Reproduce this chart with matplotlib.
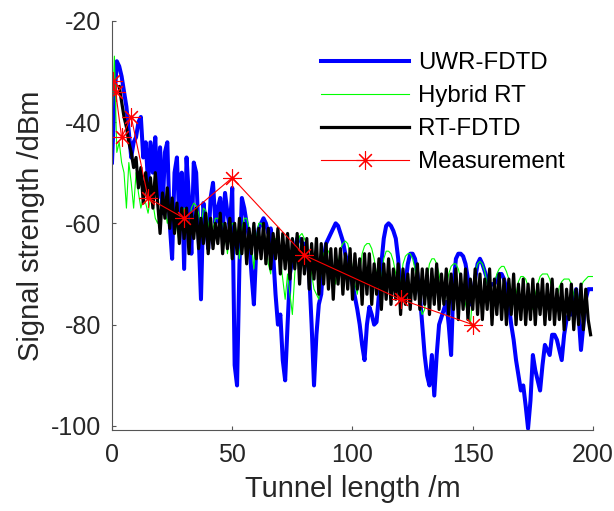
import numpy as np
import matplotlib
matplotlib.use("Agg")
import matplotlib.pyplot as plt

plt.rcParams['font.family'] = ['Liberation Sans', 'DejaVu Sans']
plt.rcParams['axes.unicode_minus'] = False

# measurement points
meas_x = [0.5, 1.5, 4, 8, 15, 30, 50, 80, 120, 150]
meas_y = [-32, -34, -43, -39, -55, -59, -51, -66.3, -75, -80]

# UWR-FDTD, 1 m steps from 0 to 200
uwr_x = list(range(0, 201))
uwr_y = [
    -48, -36, -28, -29, -31, -34, -37, -42, -47, -44,
    -43, -40, -39, -47, -44, -52, -44, -50, -43, -55,
    -45, -58, -46, -44, -60, -67, -50, -47, -60, -50,
    -69, -47, -55, -66, -48, -50, -62, -75, -56, -60,
    -65, -55, -52, -60, -57, -55, -62, -54, -58, -61,
    -53, -88, -92, -68, -55, -57, -60, -63, -70, -76,
    -65, -61, -60, -59, -60, -62, -61, -66, -74, -80,
    -78, -87, -91, -80, -70, -67, -65, -63, -63, -64,
    -64, -66, -70, -80, -92, -82, -76, -74, -67, -64,
    -63, -62, -61, -60, -60.5, -62, -63.5, -66, -68, -70,
    -72, -74.5, -77, -80, -84, -87, -80, -76.5, -78, -80,
    -79.5, -74, -68, -63, -60.5, -60, -60.5, -61.5, -63, -67,
    -74, -75, -72, -68, -66, -66, -67, -70, -74, -80,
    -86, -90, -92, -86, -94, -86, -80, -78.5, -77, -75.5,
    -80, -86, -72, -67, -66, -66, -66.5, -68, -71, -76,
    -74, -71, -68, -67, -68, -69.5, -71, -72.5, -72, -72,
    -71, -70, -70, -71, -73, -76, -80, -83, -87, -90,
    -93, -92, -96, -100.5, -95, -86, -89, -91, -93, -88,
    -84, -85, -86, -82, -82, -83, -85, -87, -82, -79,
    -78, -78, -76, -73, -78, -85, -80, -75, -73, -73,
    -73,
]

# Hybrid RT, 1 m steps from 0 to 200
hyb_x = list(range(0, 201))
hyb_y = [
    -40, -27, -46, -44, -48, -50, -57, -48, -52, -57,
    -50, -54, -57, -55, -56, -58, -55, -56, -59, -60,
    -58, -56.5, -57, -60, -58, -57, -59, -61, -64, -59,
    -57, -58, -62, -57, -56, -56.5, -58, -61, -57, -57.5,
    -60, -63, -61, -59, -59, -60, -60, -62, -66, -62,
    -60, -60, -62, -67, -61, -59, -59, -61, -64, -69,
    -63, -60, -60, -61, -64, -68, -70, -64, -63, -64,
    -67, -71, -75, -70, -74, -78, -70, -65, -62.5, -62,
    -63, -64.5, -67, -70, -73, -74, -75, -69, -66, -65,
    -65.5, -67, -69, -72, -68, -65, -64, -63.5, -64, -66,
    -69, -72, -74, -70, -66, -64.5, -64, -64, -65, -67,
    -70, -73, -71, -67, -65.5, -65.5, -66, -67.5, -70, -73,
    -72, -68, -66.5, -66, -66, -67, -69, -72, -76, -78,
    -77, -71, -68, -67, -67, -68, -70, -73, -76, -73,
    -70, -68.5, -68, -68, -69, -71, -73, -76, -78, -80,
    -74, -70, -68, -67.5, -68, -69.5, -72, -75, -76, -72,
    -70, -69, -68.5, -68.5, -69.5, -71, -73.5, -76, -74, -71.5,
    -70.5, -70.5, -71, -72.5, -75, -77, -74, -72, -70.5, -70,
    -70, -70, -71, -73, -76, -75, -72.5, -71.5, -71, -71,
    -71, -72, -74, -76.5, -75, -72.5, -71.5, -71, -70.5, -70.5,
    -70.5,
]

# RT-FDTD, 1 m steps from 3 to 199
rtf_x = list(range(3, 200))
rtf_y = [
    -33, -36, -39, -41, -44, -46, -49, -47, -53, -49,
    -56, -50, -55, -51, -57, -50, -56, -62, -54, -59,
    -53, -61, -55, -62, -56, -64, -57, -63, -57, -66,
    -58, -63, -57, -65, -59, -64, -58, -66, -59, -65,
    -60, -64, -58, -66, -60, -65, -59, -67, -60, -66,
    -59, -66, -60, -68, -61, -66, -60, -67, -61, -67,
    -60, -68, -61, -69, -62, -67, -61, -70, -62, -69,
    -62, -71, -63, -69, -62, -72, -63, -70, -63, -73,
    -64, -71, -63, -74, -64, -72, -64, -73, -65, -75,
    -65, -72, -65, -74, -66, -73, -65, -75, -66, -73,
    -67, -76, -66, -74, -66, -76, -68, -74, -67, -77,
    -68, -75, -67, -76, -69, -75, -68, -78, -69, -76,
    -70, -77, -69, -75, -68, -77, -69, -76, -69, -78,
    -69, -76, -68, -77, -70, -76, -69, -78, -70, -77,
    -69, -79, -70, -77, -69, -79, -71, -77, -69, -78,
    -70, -79, -71, -77, -69, -80, -71, -78, -70, -79,
    -71, -80, -71, -78, -70, -80, -72, -79, -71, -80,
    -72, -79, -71, -80, -72, -78, -71, -80, -72, -79,
    -71, -80, -73, -79, -72, -81, -73, -79, -72, -81,
    -73, -80, -72, -81, -73, -79, -82,
]

fig = plt.figure(figsize=(6.14, 5.11), dpi=100)
ax = fig.add_axes([0.1824, 0.1585, 0.7834, 0.801])

ax.plot(uwr_x, uwr_y, color='#0000ff', lw=2.9, label='UWR-FDTD')
ax.plot(hyb_x, hyb_y, color='#00ff00', lw=0.8, label='Hybrid RT')
ax.plot(rtf_x, rtf_y, color='black', lw=2.3, label='RT-FDTD')
ax.plot(meas_x, meas_y, color='#ff0000', lw=0.8, marker=(8, 2, 0),
        markersize=13, markeredgewidth=0.8, label='Measurement')

ax.set_xlim(0, 200)
ax.set_ylim(-100.8, -20)
ax.set_xticks([0, 50, 100, 150, 200])
ax.set_yticks([-100, -80, -60, -40, -20])

for s in ['top', 'right']:
    ax.spines[s].set_visible(False)
for s in ['left', 'bottom']:
    ax.spines[s].set_color('#555555')
    ax.spines[s].set_linewidth(0.8)

ax.tick_params(direction='in', length=3, width=0.8, colors='#555555',
               labelsize=18, labelcolor='#262626')
ax.tick_params(axis='x', pad=9)
ax.tick_params(axis='y', pad=8)

ax.set_xlabel('Tunnel length /m', fontsize=21, color='#262626', labelpad=6)
ax.set_ylabel('Signal strength /dBm', fontsize=21, color='#262626', labelpad=4)

ax.legend(loc='upper left', bbox_to_anchor=(0.523, 0.898), bbox_transform=fig.transFigure,
          frameon=False, fontsize=17.3, handlelength=3.67, handletextpad=0.37,
          labelspacing=0.46, borderpad=0, borderaxespad=0)

fig.savefig('out.png', dpi=100)
